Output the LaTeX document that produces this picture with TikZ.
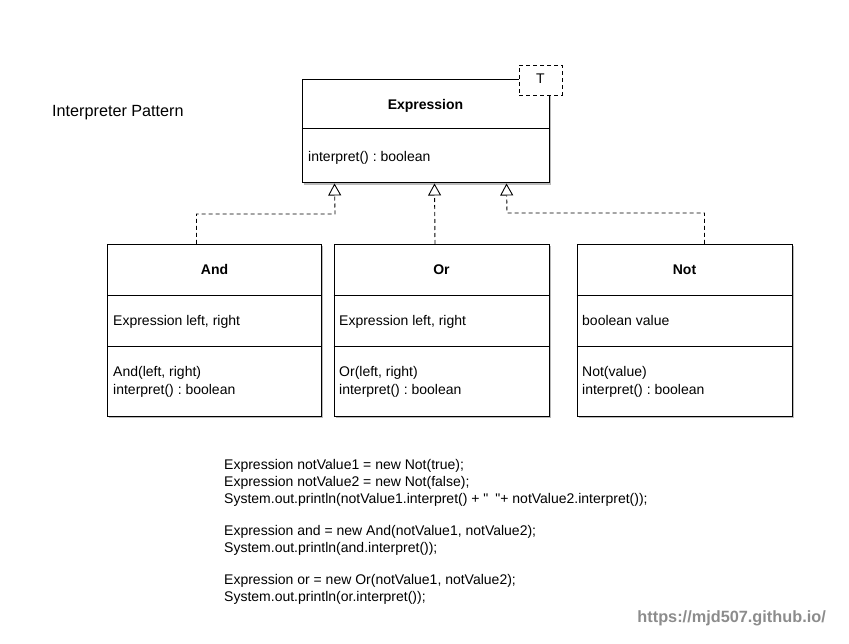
\documentclass[tikz,border=0pt]{standalone}
\usepackage{fontspec}
\setmainfont{Liberation Sans}
\newfontfamily\qfont{Liberation Sans}
\frenchspacing
\usetikzlibrary{arrows.meta,shadows,calc}
\begin{document}
\begin{tikzpicture}[x=1pt,y=-1pt,
  box/.style={draw=black,line width=1pt,fill=white,rectangle,inner sep=0pt,
    drop shadow={shadow xshift=1.6pt,shadow yshift=-1.6pt,fill=black!45,opacity=0.6}},
  divider/.style={draw=black,line width=1pt},
  ttl/.style={font=\fontsize{14}{16}\selectfont\bfseries,anchor=base,inner sep=0pt},
  txt/.style={font=\fontsize{14}{16}\selectfont,anchor=base west,inner sep=0pt},
  realize/.style={draw=black,line width=0.9pt,dash pattern=on 4pt off 3pt,
    -{Triangle[open,length=12pt,width=13pt,line width=0.9pt]}},
  tbox/.style={draw=black,line width=0.9pt,dash pattern=on 4pt off 3pt,fill=white,
    rectangle,inner sep=0pt,minimum width=43pt,minimum height=30pt}
]
\useasboundingbox (0,0) rectangle (849,644);

% title
\node[txt,font=\fontsize{16.2}{18}\selectfont] (title) at (52,117) {Interpreter Pattern};

% Expression
\node[box,minimum width=247pt,minimum height=103pt] (expr) at (425.5,131.5) {};
\draw[divider] (expr.west |- 0,129) -- (expr.east |- 0,129);
\node[ttl] (exprt) at (425.5,110) {Expression};
\node[txt] (exprm) at (308,162) {interpret() : boolean};
\node[tbox] (T) at (540.5,80) {};
\node[txt,anchor=base] (Tt) at (540.5,84) {T};

% And
\node[box,minimum width=214pt,minimum height=172pt] (and) at (214.5,330.5) {};
\draw[divider] (and.west |- 0,296) -- (and.east |- 0,296);
\draw[divider] (and.west |- 0,347) -- (and.east |- 0,347);
\node[ttl] (andt) at (214.5,275) {And};
\node[txt] (anda) at (113,326) {Expression left, right};
\node[txt] (andm1) at (113,377) {And(left, right)};
\node[txt] (andm2) at (113,395) {interpret() : boolean};

% Or
\node[box,minimum width=215pt,minimum height=172pt] (or) at (441.5,330.5) {};
\draw[divider] (or.west |- 0,296) -- (or.east |- 0,296);
\draw[divider] (or.west |- 0,347) -- (or.east |- 0,347);
\node[ttl] (ort) at (441.5,275) {Or};
\node[txt] (ora) at (339,326) {Expression left, right};
\node[txt] (orm1) at (339,377) {Or(left, right)};
\node[txt] (orm2) at (339,395) {interpret() : boolean};

% Not
\node[box,minimum width=215pt,minimum height=172pt] (not) at (684.5,330.5) {};
\draw[divider] (not.west |- 0,296) -- (not.east |- 0,296);
\draw[divider] (not.west |- 0,347) -- (not.east |- 0,347);
\node[ttl] (nott) at (684.5,275) {Not};
\node[txt] (nota) at (582,326) {boolean value};
\node[txt] (notm1) at (582,377) {Not(value)};
\node[txt] (notm2) at (582,395) {interpret() : boolean};

% realization connectors
\draw[realize] ([xshift=89.5pt]and.north west) |- (335,214) -- ([xshift=33pt]expr.south west);
\draw[realize] (or.north -| 435,0) -- ([xshift=133pt]expr.south west);
\draw[realize] ([xshift=128pt]not.north west) |- (507,213) -- ([xshift=205pt]expr.south west);

% code
\node[txt] (c1) at (224,469) {Expression notValue1 = new Not(true);};
\node[txt] (c2) at (224,486) {Expression notValue2 = new Not(false);};
\node[txt] (c3) at (224,503) {System.out.println(notValue1.interpret() + {\qfont "}\hspace{0.5em}{\qfont "}+ notValue2.interpret());};
\node[txt] (c4) at (224,535) {Expression and = new And(notValue1, notValue2);};
\node[txt] (c5) at (224,552) {System.out.println(and.interpret());};
\node[txt] (c6) at (224,584) {Expression or = new Or(notValue1, notValue2);};
\node[txt] (c7) at (224,601) {System.out.println(or.interpret());};

% watermark
\node[txt,font=\fontsize{16.3}{18}\selectfont\bfseries,text=black!45,anchor=base east] (wm) at (826,622) {https://mjd507.github.io/};
\end{tikzpicture}
\end{document}
